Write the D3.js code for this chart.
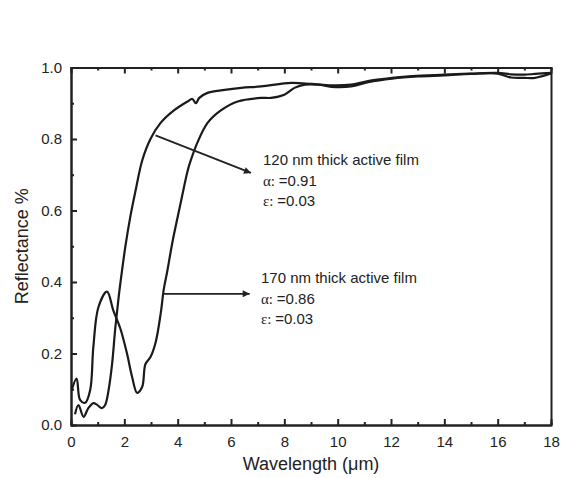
<!DOCTYPE html>
<html>
<head>
<meta charset="utf-8">
<script src="https://cdn.jsdelivr.net/npm/d3@7"></script>
<style>
body { margin: 0; background: #fff; }
text { font-family: "Liberation Sans", Arial, sans-serif; fill: #222; }
</style>
</head>
<body>
<div id="content"></div>
<script>
// wavelength (um) and reflectance
var x120 = [0.15, 0.28, 0.47, 0.65, 0.84, 0.97, 1.16, 1.28, 1.41, 1.54, 1.66, 1.79, 1.91, 2.04, 2.23, 2.42, 2.67, 2.98, 3.36, 3.86, 4.37, 4.55, 4.68, 4.81, 5.12, 5.62, 6.38, 7.13, 8.26, 9.02, 9.77, 10.5, 11.28, 12.04, 12.8, 14.0, 15.0, 16.0, 16.5, 17.0, 17.4, 18.0];
var y120 = [0.03, 0.056, 0.023, 0.047, 0.061, 0.057, 0.047, 0.056, 0.098, 0.17, 0.27, 0.36, 0.43, 0.50, 0.585, 0.655, 0.74, 0.80, 0.845, 0.88, 0.905, 0.912, 0.90, 0.915, 0.929, 0.936, 0.943, 0.947, 0.957, 0.954, 0.95, 0.952, 0.964, 0.971, 0.976, 0.98, 0.983, 0.985, 0.981, 0.98, 0.982, 0.985];

var x170 = [0.03, 0.21, 0.34, 0.53, 0.72, 0.84, 1.03, 1.35, 1.59, 1.85, 2.1, 2.29, 2.48, 2.67, 2.79, 2.98, 3.17, 3.36, 3.48, 3.61, 3.80, 4.11, 4.37, 4.49, 4.74, 5.12, 5.62, 6.25, 7.13, 7.5, 8.0, 8.38, 8.77, 9.28, 9.77, 10.5, 11.15, 12.04, 13.0, 14.0, 15.0, 16.0, 16.5, 17.0, 17.4, 18.0];
var y170 = [0.098, 0.13, 0.07, 0.062, 0.098, 0.22, 0.33, 0.373, 0.32, 0.27, 0.20, 0.135, 0.09, 0.107, 0.17, 0.19, 0.23, 0.31, 0.38, 0.43, 0.51, 0.62, 0.71, 0.74, 0.79, 0.845, 0.88, 0.905, 0.915, 0.915, 0.924, 0.943, 0.952, 0.952, 0.946, 0.947, 0.959, 0.969, 0.975, 0.978, 0.982, 0.983, 0.972, 0.971, 0.971, 0.983];

var xTicks = [0, 2, 4, 6, 8, 10, 12, 14, 16, 18];
var yTicks = [0.0, 0.2, 0.4, 0.6, 0.8, 1.0];

// annotation text, arrow start and arrow end in data units
var notes = [
    {lines: ["120 nm thick active film", "=0.91", "=0.03"], from: [3.17, 0.81], to: [6.75, 0.705]},
    {lines: ["170 nm thick active film", "=0.86", "=0.03"], from: [3.44, 0.367], to: [6.7, 0.367]}
];

var width = 561;
var height = 478;
var mLeft = 71, mRight = 551, mTop = 67.5, mBottom = 425;

var x = d3.scaleLinear().domain([0, 18]).range([mLeft, mRight]);
var y = d3.scaleLinear().domain([0, 1]).range([mBottom, mTop]);

var svg = d3.select("#content").append("svg")
    .attr("width", width)
    .attr("height", height)
    .attr("id", "viz");

svg.append("defs").append("marker")
    .attr("id", "head")
    .attr("viewBox", "0 0 10 10")
    .attr("refX", 10)
    .attr("refY", 5)
    .attr("markerWidth", 10)
    .attr("markerHeight", 7)
    .attr("markerUnits", "userSpaceOnUse")
    .attr("orient", "auto")
    .append("path")
    .attr("d", "M0,0 L10,5 L0,10 Z")
    .attr("fill", "#222");

//minor ticks first, majors with labels on top
var minorX = d3.range(1, 18, 2);
var minorY = d3.range(0.1, 1, 0.2);

svg.append("g").attr("transform", "translate(0," + mBottom + ")")
    .call(d3.axisBottom(x).tickValues(minorX).tickSize(-3).tickFormat(""));
svg.append("g").attr("transform", "translate(0," + mTop + ")")
    .call(d3.axisTop(x).tickValues(minorX).tickSize(-3).tickFormat(""));
svg.append("g").attr("transform", "translate(" + mLeft + ",0)")
    .call(d3.axisLeft(y).tickValues(minorY).tickSize(-3).tickFormat(""));

svg.append("g").attr("class", "xaxis").attr("transform", "translate(0," + mBottom + ")")
    .call(d3.axisBottom(x).tickValues(xTicks).tickSize(-6).tickSizeOuter(0).tickPadding(11).tickFormat(d3.format("d")));
svg.append("g").attr("transform", "translate(0," + mTop + ")")
    .call(d3.axisTop(x).tickValues(xTicks).tickSize(-6).tickSizeOuter(0).tickFormat(""));
svg.append("g").attr("class", "yaxis").attr("transform", "translate(" + mLeft + ",0)")
    .call(d3.axisLeft(y).tickValues(yTicks).tickSize(-6).tickSizeOuter(0).tickPadding(9).tickFormat(d3.format(".1f")));
svg.append("g").attr("transform", "translate(" + mRight + ",0)")
    .call(d3.axisRight(y).tickValues([]).tickSizeOuter(0));

svg.selectAll(".domain, .tick line")
    .attr("stroke", "#222")
    .attr("stroke-width", 2);
svg.selectAll(".xaxis text, .yaxis text")
    .attr("font-size", 15)
    .attr("fill", "#222")
    .style("font-family", "'Liberation Sans', Arial, sans-serif");

var line = d3.line()
    .x(function(d) { return x(d[0]); })
    .y(function(d) { return y(d[1]); })
    .curve(d3.curveCatmullRom.alpha(0.5));

svg.append("path")
    .datum(d3.zip(x120, y120))
    .attr("d", line)
    .attr("fill", "none")
    .attr("stroke", "#1a1a1a")
    .attr("stroke-width", 2.2);

svg.append("path")
    .datum(d3.zip(x170, y170))
    .attr("d", line)
    .attr("fill", "none")
    .attr("stroke", "#1a1a1a")
    .attr("stroke-width", 2.2);

// arrows and notes
for (var i = 0; i < notes.length; i++) {
    var n = notes[i];
    svg.append("line")
        .attr("x1", x(n.from[0]))
        .attr("y1", y(n.from[1]))
        .attr("x2", x(n.to[0]))
        .attr("y2", y(n.to[1]))
        .attr("stroke", "#222")
        .attr("stroke-width", 1.8)
        .attr("marker-end", "url(#head)");
}

var noteY = [165, 283];
var noteX = [263, 261];
for (var i = 0; i < notes.length; i++) {
    var t = svg.append("text")
        .attr("x", noteX[i])
        .attr("y", noteY[i])
        .attr("font-size", 15);
    t.append("tspan").attr("x", noteX[i]).text(notes[i].lines[0]);
    var a = t.append("tspan").attr("x", noteX[i]).attr("dy", 20.5);
    a.append("tspan").style("font-family", "'Liberation Serif', 'Times New Roman', serif").text("\u03b1: ");
    a.append("tspan").text(notes[i].lines[1]);
    var e = t.append("tspan").attr("x", noteX[i]).attr("dy", 20);
    e.append("tspan").style("font-family", "'Liberation Serif', 'Times New Roman', serif").text("\u03b5: ");
    e.append("tspan").text(notes[i].lines[2]);
}

// axis titles
svg.append("text")
    .attr("x", (mLeft + mRight) / 2)
    .attr("y", 470)
    .attr("text-anchor", "middle")
    .attr("font-size", 18)
    .text("Wavelength (\u03bcm)");

svg.append("text")
    .attr("transform", "translate(28," + (mTop + mBottom) / 2 + ") rotate(-90)")
    .attr("text-anchor", "middle")
    .attr("font-size", 18)
    .text("Reflectance %");
</script>
</body>
</html>
